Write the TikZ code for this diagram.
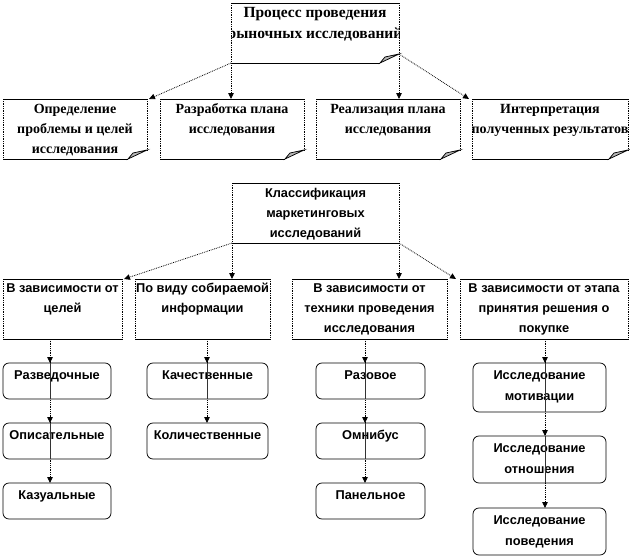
\documentclass[tikz,border=0pt]{standalone}
\usepackage{fontspec}
\setmainfont{Liberation Serif}
\newfontfamily\arialf{Liberation Sans}
\usetikzlibrary{arrows.meta,calc}
\newcommand\ctr[1]{\makebox[\linewidth][c]{#1}}
\newcommand\bx[7][]{%
  \pgfmathsetmacro\bw{#5-#3}\pgfmathsetmacro\bh{#6-#4}%
  \node[inner sep=0pt,outer sep=0pt,anchor=north west,minimum width=\bw pt,minimum height=\bh pt,#1] (#2) at (#3,#4)
    {\parbox[c][\bh pt][t]{\bw pt}{\centering\rule{0pt}{\tg}#7}};%
}
\newcommand\notebd[1]{%
  \draw[edgeh] (#1.north west) -- (#1.north east);
  \draw[edgev] (#1.north west) -- (#1.south west);
  \draw[edgev] (#1.north east) -- ([yshift=9pt]#1.south east);
  \draw[edgeh] (#1.south west) -- ([xshift=-19pt]#1.south east);
  \draw[edgeh,fill=gray!55] ([xshift=-19pt]#1.south east) -- ([xshift=-14pt,yshift=6pt]#1.south east) -- ([yshift=9pt]#1.south east) -- cycle;
}
\newcommand\rectbd[1]{%
  \draw[edgeh] (#1.north west) -- (#1.north east);
  \draw[edgeh] (#1.south west) -- (#1.south east);
  \draw[edgev] (#1.north west) -- (#1.south west);
  \draw[edgev] (#1.north east) -- (#1.south east);
}
\newcommand\roundbd[1]{%
  \draw[edgeh,rounded corners=6pt] (#1.north west) rectangle (#1.south east);
}
\tikzset{
  edgeh/.style={line width=0.75pt,black},
  edgev/.style={line width=0.75pt,black,densely dotted},
  conn/.style={line width=0.8pt,black,densely dotted,-{Triangle[length=6pt,width=5.5pt]}},
  thru/.style={line width=0.7pt,black!80},
  serifT/.style={font=\fontsize{15.5}{21}\selectfont\bfseries,execute at begin node={\def\tg{14pt}}},
  serifA/.style={font=\fontsize{14}{20}\selectfont\bfseries,execute at begin node={\def\tg{14pt}}},
  sansK/.style={font=\arialf\fontsize{12.8}{20}\selectfont\bfseries,execute at begin node={\def\tg{14pt}}},
  sansB/.style={font=\arialf\fontsize{12.8}{20}\selectfont\bfseries,execute at begin node={\def\tg{13pt}}},
  sansC/.style={font=\arialf\fontsize{12.8}{21}\selectfont\bfseries,execute at begin node={\def\tg{16pt}}},
}
\begin{document}
\begin{tikzpicture}[x=1pt,y=-1pt]
\useasboundingbox (0,0) rectangle (630,558);
% ---------- section 1 ----------
\begin{scope}
  \clip (231,3) rectangle (399,63);
  \bx[serifT]{T}{231}{3}{399}{63}{\ctr{Процесс проведения}\\\ctr{рыночных исследований}}
\end{scope}
\bx[serifA]{A1}{3}{99}{147}{159}{\ctr{Определение}\\\ctr{проблемы и целей}\\\ctr{исследования}}
\bx[serifA]{A2}{160}{99}{304}{159}{\ctr{Разработка плана}\\\ctr{исследования}}
\bx[serifA]{A3}{316}{99}{460}{159}{\ctr{Реализация плана}\\\ctr{исследования}}
\begin{scope}
  \clip (472,99) rectangle (628,159);
  \bx[serifA]{A4}{472}{99}{628}{159}{\ctr{Интерпретация}\\\ctr{полученных  результатов}}
\end{scope}
\notebd{T}\notebd{A1}\notebd{A2}\notebd{A3}\notebd{A4}
\draw[conn] (T.south west) -- ([xshift=2pt]A1.north east);
\draw[conn] (T.south west) -- (T.south west |- A2.north);
\draw[conn] ([yshift=9pt]T.south east) -- (T.south east |- A3.north);
\draw[conn] ([yshift=9pt]T.south east) -- ([xshift=-3pt]A4.north west);
% ---------- section 2 ----------
\bx[sansK]{K}{232}{183}{399}{243}{\ctr{Классификация}\\\ctr{маркетинговых}\\\ctr{исследований}}
\bx[sansB]{B1}{3}{279}{122}{339}{\ctr{В зависимости от}\\\ctr{целей}}
\bx[sansB]{B2}{135}{279}{270}{339}{\ctr{По виду собираемой}\\\ctr{информации}}
\bx[sansB]{B3}{292}{279}{447}{339}{\ctr{В зависимости от}\\\ctr{техники проведения}\\\ctr{исследования}}
\bx[sansB]{B4}{460}{279}{628}{339}{\ctr{В зависимости от этапа}\\\ctr{принятия решения о}\\\ctr{покупке}}
\rectbd{K}\rectbd{B1}\rectbd{B2}\rectbd{B3}\rectbd{B4}
\draw[conn] (K.south west) -- ([xshift=2pt]B1.north east);
\draw[conn] (K.south west) -- (K.south west |- B2.north);
\draw[conn] (K.south east) -- (K.south east |- B3.north);
\draw[conn] (K.south east) -- ([xshift=-4pt]B4.north west);
% ---------- section 3 ----------
\bx[sansC]{C11}{3}{363}{111}{399}{\ctr{Разведочные}}
\bx[sansC]{C12}{3}{423}{111}{459}{\ctr{Описательные}}
\bx[sansC]{C13}{3}{483}{111}{519}{\ctr{Казуальные}}
\bx[sansC]{C21}{147}{363}{268}{399}{\ctr{Качественные}}
\bx[sansC]{C22}{147}{423}{268}{459}{\ctr{Количественные}}
\bx[sansC]{C31}{316}{363}{425}{399}{\ctr{Разовое}}
\bx[sansC]{C32}{316}{423}{425}{459}{\ctr{Омнибус}}
\bx[sansC]{C33}{316}{483}{425}{519}{\ctr{Панельное}}
\bx[sansC]{C41}{473}{363}{606}{412}{\ctr{Исследование}\\\ctr{мотивации}}
\bx[sansC]{C42}{473}{436}{606}{483}{\ctr{Исследование}\\\ctr{отношения}}
\bx[sansC]{C43}{473}{508}{606}{555}{\ctr{Исследование}\\\ctr{поведения}}
\foreach \n in {C11,C12,C13,C21,C22,C31,C32,C33,C41,C42,C43} {\roundbd{\n}}
\coordinate (b1) at ([xshift=47pt]B1.south west);
\coordinate (b2) at ([xshift=72pt]B2.south west);
\coordinate (b3) at ([xshift=73pt]B3.south west);
\coordinate (b4) at ([xshift=85pt]B4.south west);
\foreach \p/\c in {b1/C11,b1/C12,b1/C13,b2/C21,b2/C22,b3/C31,b3/C32,b3/C33,b4/C41,b4/C42,b4/C43}
  {\draw[conn] (\p) -- (\p |- \c.north);}
\foreach \p/\c in {b1/C11,b1/C12,b2/C21,b3/C31,b3/C32,b4/C41,b4/C42}
  {\draw[thru] (\p |- \c.north) -- (\p |- \c.south);}
\end{tikzpicture}
\end{document}
